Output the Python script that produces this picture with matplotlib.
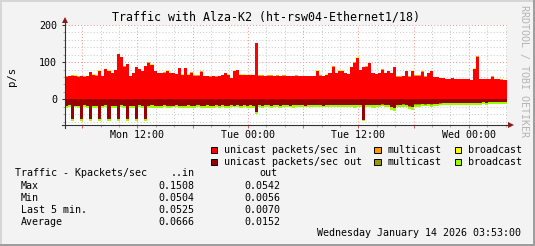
import matplotlib
matplotlib.use("Agg")
import matplotlib.pyplot as plt
import matplotlib.dates as mdates
from matplotlib.patches import Rectangle
from matplotlib.lines import Line2D
import numpy as np
from datetime import datetime, timedelta

title = "Traffic with Alza-K2 (ht-rsw04-Ethernet1/18)"
start = datetime(2026, 1, 12, 4, 5)
step_minutes = 20

# packets/sec, one value per 20 minutes
unicast_in = [
    61, 62, 63, 62, 61, 62, 61, 62, 73, 66,
    64, 75, 62, 82, 77, 70, 79, 122, 113, 88,
    95, 63, 70, 86, 81, 76, 90, 99, 93, 76,
    70, 70, 72, 77, 70, 71, 68, 84, 66, 84,
    66, 72, 64, 64, 73, 63, 62, 61, 62, 61,
    62, 65, 70, 66, 57, 77, 79, 66, 66, 65,
    66, 65, 151, 64, 64, 63, 64, 64, 63, 64,
    63, 64, 63, 62, 63, 64, 63, 63, 62, 62,
    63, 63, 77, 64, 63, 66, 70, 88, 70, 77,
    77, 70, 68, 86, 99, 111, 79, 86, 88, 97,
    70, 68, 70, 80, 70, 75, 70, 86, 61, 61,
    62, 75, 61, 75, 64, 64, 73, 61, 70, 75,
    59, 59, 57, 57, 55, 55, 56, 54, 54, 54,
    54, 54, 52, 81, 115, 54, 54, 54, 54, 61,
    54, 54, 53, 52,
]
multicast_in = [
    0.5, 0.5, 2.5, 0.5, 0.5, 0.5, 0.5, 0.5, 0.5, 0.5,
    0.5, 2.5, 0.5, 0.5, 0.5, 0.5, 0.5, 0.5, 0.5, 0.5,
    0.5, 0.5, 0.5, 0.5, 0.5, 0.5, 0.5, 0.5, 0.5, 0.5,
    0.5, 0.5, 0.5, 0.5, 0.5, 0.5, 0.5, 0.5, 0.5, 0.5,
    0.5, 2.5, 0.5, 0.5, 2.5, 0.5, 0.5, 0.5, 0.5, 0.5,
    0.5, 0.5, 0.5, 0.5, 0.5, 0.5, 0.5, 0.5, 0.5, 0.5,
    0.5, 0.5, 0.5, 0.5, 0.5, 0.5, 0.5, 0.5, 0.5, 0.5,
    0.5, 0.5, 0.5, 0.5, 0.5, 0.5, 0.5, 0.5, 0.5, 0.5,
    0.5, 0.5, 0.5, 0.5, 0.5, 0.5, 0.5, 0.5, 0.5, 0.5,
    0.5, 0.5, 0.5, 0.5, 0.5, 0.5, 0.5, 0.5, 0.5, 0.5,
    0.5, 0.5, 0.5, 0.5, 0.5, 0.5, 0.5, 0.5, 0.5, 0.5,
    0.5, 0.5, 0.5, 2.5, 0.5, 0.5, 2.5, 0.5, 0.5, 0.5,
    0.5, 0.5, 0.5, 0.5, 0.5, 0.5, 0.5, 0.5, 0.5, 0.5,
    0.5, 0.5, 0.5, 0.5, 0.5, 0.5, 0.5, 0.5, 0.5, 0.5,
    0.5, 0.5, 0.5, 0.5,
]
broadcast_in = [
    0.3, 0.3, 0.3, 2.0, 0.3, 0.3, 0.3, 0.3, 0.3, 0.3,
    0.3, 0.3, 0.3, 0.3, 0.3, 0.3, 0.3, 0.3, 0.3, 0.3,
    0.3, 0.3, 0.3, 0.3, 0.3, 0.3, 0.3, 0.3, 0.3, 0.3,
    0.3, 0.3, 0.3, 0.3, 0.3, 0.3, 0.3, 0.3, 0.3, 0.3,
    0.3, 0.3, 0.3, 0.3, 0.3, 0.3, 0.3, 0.3, 0.3, 0.3,
    0.3, 0.3, 0.3, 0.3, 0.3, 0.3, 0.3, 0.3, 0.3, 0.3,
    0.3, 0.3, 0.3, 0.3, 0.3, 0.3, 0.3, 0.3, 0.3, 0.3,
    0.3, 0.3, 0.3, 0.3, 0.3, 0.3, 0.3, 0.3, 0.3, 0.3,
    0.3, 0.3, 0.3, 0.3, 0.3, 0.3, 0.3, 0.3, 0.3, 0.3,
    0.3, 0.3, 0.3, 0.3, 0.3, 2.0, 0.3, 0.3, 0.3, 0.3,
    0.3, 0.3, 0.3, 2.0, 0.3, 2.0, 0.3, 0.3, 0.3, 0.3,
    0.3, 0.3, 0.3, 0.3, 0.3, 0.3, 0.3, 0.3, 0.3, 0.3,
    0.3, 0.3, 0.3, 0.3, 0.3, 0.3, 0.3, 0.3, 0.3, 0.3,
    0.3, 0.3, 0.3, 2.0, 0.3, 0.3, 0.3, 0.3, 0.3, 0.3,
    0.3, 0.3, 0.3, 0.3,
]
unicast_out = [
    17, 16, 53, 17, 18, 52, 16, 17, 53, 17,
    18, 52, 17, 16, 53, 18, 17, 52, 16, 17,
    53, 18, 17, 52, 16, 18, 53, 17, 16, 17,
    18, 17, 16, 17, 18, 17, 16, 17, 17, 18,
    16, 17, 17, 16, 18, 17, 16, 17, 17, 16,
    17, 16, 18, 17, 16, 17, 16, 17, 16, 17,
    16, 17, 33, 16, 17, 16, 16, 17, 16, 16,
    17, 16, 16, 17, 16, 16, 15, 16, 17, 16,
    16, 15, 16, 16, 17, 16, 16, 15, 16, 16,
    15, 16, 16, 15, 16, 16, 15, 55, 15, 15,
    16, 15, 15, 14, 15, 15, 21, 24, 15, 15,
    14, 15, 19, 21, 14, 14, 13, 14, 13, 14,
    13, 12, 11, 10, 10, 9, 10, 9, 9, 10,
    9, 9, 10, 9, 9, 9, 8, 9, 8, 8,
    8, 8, 7, 7,
]
multicast_out = [
    0.5, 0.5, 0.5, 0.5, 0.5, 0.5, 0.5, 0.5, 0.5, 0.5,
    0.5, 0.5, 0.5, 0.5, 0.5, 0.5, 0.5, 0.5, 0.5, 0.5,
    0.5, 0.5, 0.5, 0.5, 0.5, 0.5, 0.5, 0.5, 0.5, 0.5,
    0.5, 0.5, 0.5, 0.5, 0.5, 0.5, 0.5, 0.5, 0.5, 0.5,
    0.5, 0.5, 0.5, 0.5, 0.5, 0.5, 0.5, 0.5, 0.5, 0.5,
    0.5, 0.5, 0.5, 0.5, 0.5, 0.5, 0.5, 0.5, 0.5, 0.5,
    0.5, 0.5, 0.5, 0.5, 0.5, 0.5, 0.5, 0.5, 0.5, 0.5,
    0.5, 0.5, 0.5, 0.5, 0.5, 0.5, 0.5, 0.5, 0.5, 0.5,
    0.5, 0.5, 0.5, 0.5, 0.5, 0.5, 0.5, 0.5, 0.5, 0.5,
    0.5, 0.5, 0.5, 0.5, 0.5, 0.5, 0.5, 0.5, 0.5, 0.5,
    0.5, 0.5, 0.5, 0.5, 0.5, 0.5, 0.5, 0.5, 0.5, 0.5,
    0.5, 0.5, 0.5, 0.5, 0.5, 0.5, 0.5, 0.5, 0.5, 0.5,
    0.5, 0.5, 0.5, 0.5, 0.5, 0.5, 0.5, 0.5, 0.5, 0.5,
    0.5, 0.5, 0.5, 0.5, 0.5, 0.5, 0.5, 0.5, 0.5, 0.5,
    0.5, 0.5, 0.5, 0.5,
]
broadcast_out = [
    5, 5, 5, 4, 5, 6, 5, 5, 4, 5,
    6, 5, 5, 4, 5, 5, 6, 5, 4, 5,
    5, 6, 5, 5, 4, 5, 5, 5, 6, 5,
    4, 5, 5, 6, 5, 4, 5, 5, 5, 4,
    6, 5, 5, 4, 5, 5, 6, 5, 5, 4,
    5, 5, 5, 6, 5, 4, 5, 5, 5, 5,
    6, 5, 5, 4, 5, 5, 5, 6, 5, 4,
    5, 5, 5, 4, 6, 5, 5, 5, 4, 5,
    5, 6, 5, 5, 4, 5, 5, 6, 5, 5,
    4, 5, 5, 5, 6, 5, 5, 4, 5, 5,
    6, 5, 5, 4, 5, 5, 7, 7, 5, 5,
    5, 4, 6, 6, 5, 5, 5, 4, 5, 5,
    5, 5, 5, 5, 5, 5, 5, 5, 5, 5,
    5, 5, 5, 5, 5, 5, 5, 5, 5, 5,
    5, 5, 5, 5,
]

in_colors = ["#ff0000", "#ff9900", "#ffff00"]
out_colors = ["#990000", "#999900", "#99ff00"]
legend_rows = [
    ["unicast packets/sec in", "multicast", "broadcast"],
    ["unicast packets/sec out", "multicast", "broadcast"],
]
stat_names = ["Max", "Min", "Last 5 min.", "Average"]
stat_in = ["0.1508", "0.0504", "0.0525", "0.0666"]
stat_out = ["0.0542", "0.0056", "0.0070", "0.0152"]
stamp = "Wednesday January 14 2026 03:53:00"

W, H = 535, 246
BG = "#f3f3f3"

plt.rcParams["font.family"] = "DejaVu Sans Mono"
plt.rcParams["font.size"] = 7.2


def fx(px):
    return px / W


def fy(py):
    return 1 - py / H


def stepped(v):
    v = np.asarray(v, dtype=float)
    return np.append(v, v[-1])


def main():
    fig = plt.figure(figsize=(W / 100, H / 100), dpi=100, facecolor=BG)
    left, right, top, bottom = 64.5, 506.5, 25.0, 125.3
    ax = fig.add_axes([fx(left), fy(bottom), (right - left) / W, (bottom - top) / H])
    ax.set_facecolor("white")

    n = len(unicast_in)
    edges = [start + timedelta(minutes=step_minutes * i) for i in range(n + 1)]
    t = mdates.date2num(edges)

    base = np.zeros(n + 1)
    for vals, col in zip([unicast_in, multicast_in, broadcast_in], in_colors):
        upper = base + stepped(vals)
        ax.fill_between(t, base, upper, step="post", color=col, lw=0, zorder=2)
        base = upper
    base = np.zeros(n + 1)
    for vals, col in zip([unicast_out, multicast_out, broadcast_out], out_colors):
        lower = base - stepped(vals)
        ax.fill_between(t, lower, base, step="post", color=col, lw=0, zorder=2)
        base = lower

    ax.set_xlim(t[0], t[-1])
    ax.set_ylim(-70, 200)

    # grid: grey every 2 h / 20 p/s, red every 6 h / 100 p/s
    ax.xaxis.set_major_locator(mdates.HourLocator(byhour=[0, 6, 12, 18]))
    ax.xaxis.set_minor_locator(mdates.HourLocator(byhour=range(0, 24, 2)))
    ax.xaxis.set_major_formatter(plt.FuncFormatter(
        lambda v, p: mdates.num2date(v).strftime("%a %H:%M")
        if mdates.num2date(v).hour in (0, 12) else ""))
    ax.yaxis.set_major_locator(plt.MultipleLocator(100))
    ax.yaxis.set_minor_locator(plt.MultipleLocator(20))

    dots = (0, (1, 2))
    ax.grid(which="minor", color="#cccccc", lw=0.75, ls=dots, zorder=1)
    ax.grid(which="major", color="#e89a9a", lw=0.75, ls=dots, zorder=1)
    ax.set_axisbelow(True)

    ax.tick_params(axis="x", which="major", length=2.5, width=0.75, color="#e06060", pad=1.2)
    ax.tick_params(axis="x", which="minor", length=1.5, width=0.75, color="#aaaaaa")
    ax.tick_params(axis="y", which="major", length=2.5, width=0.75, color="#333333", pad=2.8)
    ax.tick_params(axis="y", which="minor", length=1.5, width=0.75, color="#aaaaaa")
    for s in ax.spines.values():
        s.set_visible(False)

    # axes with arrows
    ax.add_line(Line2D([0, 0], [-3 / 100.3, 1 + 5 / 100.3], transform=ax.transAxes,
                       color="#333333", lw=0.8, clip_on=False, zorder=5))
    ax.add_line(Line2D([-3 / 442, 1 + 3 / 442], [0, 0], transform=ax.transAxes,
                       color="#333333", lw=0.8, clip_on=False, zorder=5))
    ax.plot([0], [1 + 5.5 / 100.3], marker="^", ms=4.5, color="#8b1a1a", mew=0,
            transform=ax.transAxes, clip_on=False, zorder=6)
    ax.plot([1 + 4 / 442], [0], marker=">", ms=4.5, color="#8b1a1a", mew=0,
            transform=ax.transAxes, clip_on=False, zorder=6)

    fig.text(fx(265.5), fy(17), title, ha="center", va="center", fontsize=8.4)
    fig.text(fx(12), fy(76), "p/s", ha="center", va="center", rotation=90, fontsize=7.6)
    fig.text(fx(523.5), fy(5), "RRDTOOL / TOBI OETIKER", ha="center", va="top",
             rotation=270, color="#b4b4b4", fontsize=7.2)

    # legend
    sw_x = [[210.7, 374.3, 454.5], [210.7, 374.3, 454.5]]
    tx_x = [224, 387.7, 467.7]
    row_y = [150, 162]
    for r, labels in enumerate(legend_rows):
        cols = in_colors if r == 0 else out_colors
        for c, lab in enumerate(labels):
            fig.add_artist(Rectangle((fx(sw_x[r][c]), fy(row_y[r] + 3.3)), 6.6 / W, 6.6 / H,
                                     transform=fig.transFigure, facecolor=cols[c],
                                     edgecolor="black", lw=0.7))
            fig.text(fx(tx_x[c]), fy(row_y[r]), lab, ha="left", va="center")

    # statistics table
    fig.text(fx(15), fy(173.3), "Traffic - Kpackets/sec", ha="left", va="center")
    fig.text(fx(194.5), fy(173.3), "..in", ha="right", va="center")
    fig.text(fx(259), fy(173.3), "out", ha="left", va="center")
    for k, name in enumerate(stat_names):
        yy = fy(185.7 + 12 * k)
        fig.text(fx(20.7), yy, name, ha="left", va="center")
        fig.text(fx(194.5), yy, stat_in[k], ha="right", va="center")
        fig.text(fx(280), yy, stat_out[k], ha="right", va="center")

    fig.text(fx(521), fy(233.3), stamp, ha="right", va="center")

    # frame shading
    fig.add_artist(Rectangle((0, fy(2)), 1, 2 / H, transform=fig.transFigure,
                             facecolor="#d6d6d6", lw=0))
    fig.add_artist(Rectangle((0, 0), 2 / W, 1, transform=fig.transFigure,
                             facecolor="#d6d6d6", lw=0))
    fig.add_artist(Rectangle((0, 0), 1, 2 / H, transform=fig.transFigure,
                             facecolor="#9e9e9e", lw=0))
    fig.add_artist(Rectangle((1 - 2 / W, 0), 2 / W, 1, transform=fig.transFigure,
                             facecolor="#9e9e9e", lw=0))

    plt.savefig("out.png", dpi=100, facecolor=BG)


if __name__ == "__main__":
    main()
